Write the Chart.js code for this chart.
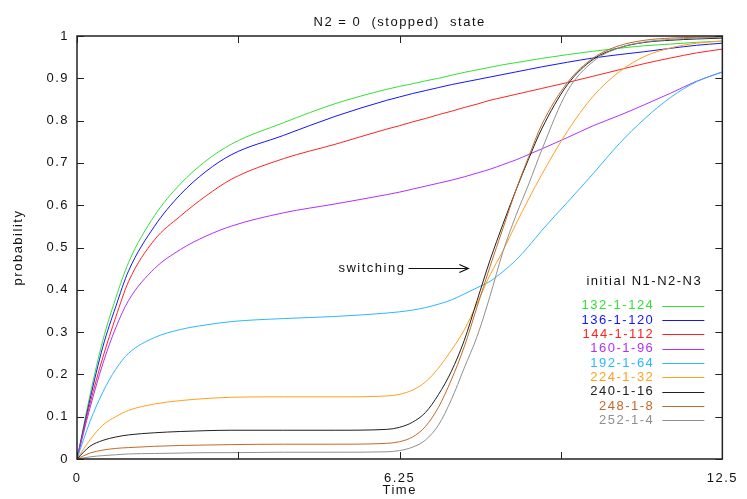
<!DOCTYPE html>
<html>
<head>
<meta charset="utf-8">
<script src="https://cdn.jsdelivr.net/npm/chart.js@4"></script>
<style>
  html, body { margin: 0; padding: 0; background: #fff; }
  #wrap { width: 747px; height: 499px; }
</style>
</head>
<body>
<div id="wrap"><canvas id="stateChart"></canvas></div>
<script>
// time samples shared by every run
const times = [0, 0.25, 0.5, 0.75, 1, 1.5, 2, 2.5, 3, 4, 5, 6, 6.25, 6.5, 6.75, 7, 7.25, 7.5, 7.75, 8, 8.25, 8.5, 8.75, 9, 9.5, 10, 10.5, 11, 11.5, 12, 12.5];

// probability of the N2 = 0 state, one list per initial N1-N2-N3
const p132 = [0, .15, .28, .38, .465, .575, .65, .705, .745, .795, .84, .874, .881, .887, .894, .9, .907, .914, .92, .926, .932, .937, .942, .947, .956, .964, .971, .977, .981, .985, .988];
const p136 = [0, .14, .265, .36, .445, .55, .625, .68, .72, .765, .81, .848, .856, .864, .871, .878, .885, .891, .897, .903, .909, .915, .921, .927, .938, .948, .956, .963, .971, .978, .983];
const p144 = [0, .13, .24, .335, .42, .518, .574, .622, .662, .71, .744, .78, .788, .797, .805, .814, .822, .831, .839, .848, .855, .862, .869, .876, .89, .905, .92, .935, .948, .96, .969];
const p160 = [0, .12, .225, .31, .375, .45, .495, .527, .551, .582, .603, .625, .631, .638, .645, .652, .659, .667, .676, .685, .696, .707, .72, .733, .76, .788, .812, .838, .865, .893, .915];
const p192 = [0, .088, .158, .212, .25, .287, .306, .317, .325, .332, .337, .345, .348, .352, .358, .366, .376, .39, .405, .42, .443, .47, .503, .54, .607, .675, .745, .805, .855, .892, .915];
const p224 = [0, .045, .08, .1, .115, .13, .138, .143, .146, .147, .147, .149, .153, .163, .182, .215, .257, .305, .368, .435, .492, .555, .615, .672, .775, .858, .915, .952, .972, .983, .988];
const p240 = [0, .03, .044, .052, .057, .062, .065, .067, .068, .068, .068, .07, .075, .087, .11, .152, .207, .28, .375, .47, .555, .635, .71, .78, .885, .945, .972, .985, .99, .993, .995];
const p248 = [0, .014, .021, .025, .027, .03, .032, .033, .034, .035, .035, .037, .041, .052, .077, .122, .187, .265, .36, .455, .545, .635, .715, .79, .89, .948, .977, .99, .995, .997, .998];
const p252 = [0, .005, .008, .01, .012, .013, .014, .015, .015, .016, .016, .017, .02, .028, .045, .08, .14, .215, .29, .385, .49, .575, .65, .73, .87, .94, .972, .986, .992, .995, .997];

const runLabels = ['132-1-124', '136-1-120', '144-1-112', '160-1-96', '192-1-64', '224-1-32', '240-1-16', '248-1-8', '252-1-4'];
const runValues = [p132, p136, p144, p160, p192, p224, p240, p248, p252];
const runColors = ['#33e033', '#1414ff', '#ff2222', '#b030ff', '#2ab8ff', '#ffa020', '#202020', '#c06a2a', '#909090'];

const xTicks = [0, 3.125, 6.25, 9.375, 12.5];
const xLabelled = [0, 6.25, 12.5];

// arrow annotation, in data units
const noteText = 'switching';
const noteY = 0.452;
const noteFrom = 6.42;
const noteTo = 7.58;

const FONT = '"Liberation Sans", Arial, sans-serif';

const datasets = runLabels.map((name, i) => ({
  label: name,
  data: times.map((t, k) => ({ x: t, y: runValues[i][k] })),
  borderColor: runColors[i],
  borderWidth: 1,
  pointRadius: 0,
  fill: false,
  cubicInterpolationMode: 'monotone',
  order: runLabels.length - i
}));

// gnuplot-ish extras: spaced text, inward ticks, frame, title, key, arrow
const decor = {
  id: 'decor',
  beforeDraw(chart) {
    chart.ctx.letterSpacing = '1.5px';
  },
  afterDraw(chart) {
    const { ctx, chartArea: a, scales: { x, y } } = chart;
    ctx.save();
    ctx.letterSpacing = '1.5px';
    ctx.strokeStyle = '#222';
    ctx.lineWidth = 1;
    ctx.beginPath();
    y.ticks.forEach(tk => {
      const py = Math.round(y.getPixelForValue(tk.value)) + 0.5;
      ctx.moveTo(a.left, py); ctx.lineTo(a.left + 7, py);
      ctx.moveTo(a.right, py); ctx.lineTo(a.right - 7, py);
    });
    xTicks.forEach(v => {
      const px = Math.round(x.getPixelForValue(v)) + 0.5;
      ctx.moveTo(px, a.bottom); ctx.lineTo(px, a.bottom - 7);
      ctx.moveTo(px, a.top); ctx.lineTo(px, a.top + 7);
    });
    ctx.stroke();
    ctx.lineWidth = 1.5;
    ctx.strokeRect(a.left, a.top, a.right - a.left, a.bottom - a.top);

    ctx.fillStyle = '#111';
    ctx.font = '13px ' + FONT;
    ctx.textBaseline = 'middle';
    ctx.textAlign = 'center';
    ctx.fillText('N2 = 0  (stopped)  state', (a.left + a.right) / 2, 22);

    // key
    ctx.fillText('initial N1-N2-N3', a.right - 78, 281);
    ctx.textAlign = 'right';
    runLabels.forEach((name, i) => {
      const ry = 305.7 + i * 14.33;
      ctx.fillStyle = runColors[i];
      ctx.fillText(name, a.right - 68, ry);
      ctx.strokeStyle = runColors[i];
      ctx.lineWidth = 1.2;
      ctx.beginPath();
      ctx.moveTo(a.right - 60, Math.round(ry) + 0.5);
      ctx.lineTo(a.right - 18, Math.round(ry) + 0.5);
      ctx.stroke();
    });

    // switching arrow
    const ay = Math.round(y.getPixelForValue(noteY)) + 0.5;
    const ax0 = x.getPixelForValue(noteFrom);
    const ax1 = x.getPixelForValue(noteTo);
    ctx.fillStyle = '#111';
    ctx.fillText(noteText, ax0 - 3, ay);
    ctx.strokeStyle = '#111';
    ctx.lineWidth = 1.2;
    ctx.beginPath();
    ctx.moveTo(ax0, ay); ctx.lineTo(ax1, ay);
    ctx.moveTo(ax1 - 9, ay - 4); ctx.lineTo(ax1, ay); ctx.lineTo(ax1 - 9, ay + 4);
    ctx.stroke();
    ctx.restore();
  }
};

new Chart(document.getElementById('stateChart'), {
  type: 'line',
  data: { datasets },
  options: {
    responsive: true,
    maintainAspectRatio: false,
    animation: false,
    layout: { padding: { top: 36, right: 15, left: 0, bottom: 0 } },
    plugins: {
      legend: { display: false },
      title: { display: false },
      tooltip: { enabled: false }
    },
    scales: {
      x: {
        type: 'linear',
        min: 0,
        max: 12.5,
        afterFit(s) { s.height = 40; },
        afterBuildTicks(s) { s.ticks = xTicks.map(v => ({ value: v })); },
        grid: { display: false, drawTicks: false },
        border: { display: false },
        ticks: {
          padding: 12,
          color: '#111',
          font: { family: FONT, size: 13 },
          maxRotation: 0,
          autoSkip: false,
          callback: v => xLabelled.includes(v) ? String(v) : ''
        },
        title: { display: true, text: 'Time', color: '#111', font: { family: FONT, size: 13 }, padding: { top: 0, bottom: 1 } }
      },
      y: {
        min: 0,
        max: 1,
        afterFit(s) { s.width = 77; },
        grid: { display: false, drawTicks: false },
        border: { display: false },
        ticks: {
          stepSize: 0.1,
          padding: 8,
          color: '#111',
          font: { family: FONT, size: 13 },
          callback: v => String(Math.round(v * 10) / 10)
        },
        title: { display: true, text: 'probability', color: '#111', font: { family: FONT, size: 13 }, padding: { top: 11, bottom: 0 } }
      }
    }
  },
  plugins: [decor]
});
</script>
</body>
</html>
